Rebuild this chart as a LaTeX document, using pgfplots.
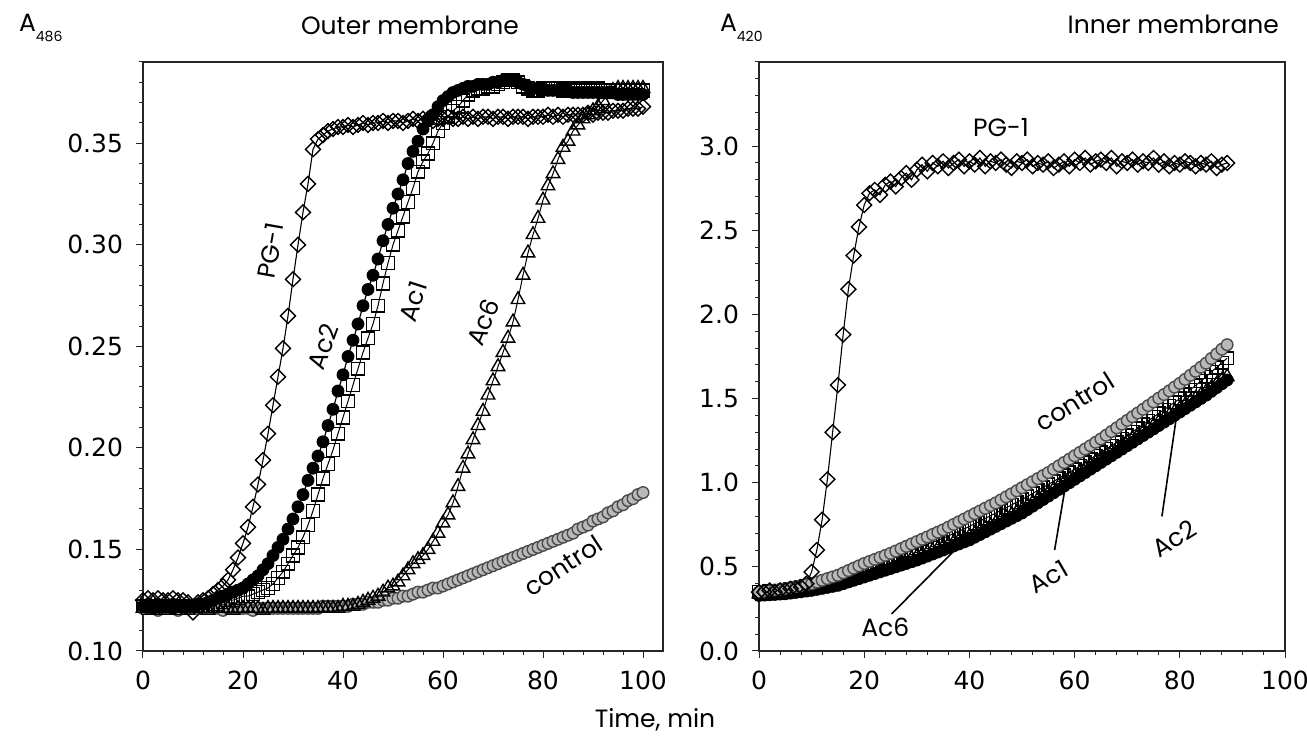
\documentclass[border=0pt]{standalone}
\usepackage{pgfplots}
\pgfplotsset{compat=1.18}
\usepackage{pgfplotstable}
\usepackage{fontspec}
\setmainfont{Poppins}
\newfontfamily\tickfont{DejaVu Sans}

% outer membrane, A486
\pgfplotstableread{
x pg ac2 ac1 ac6 ctl
0 0.125 0.122 0.122 0.121 0.121
1 0.126 0.122 0.121 0.121 0.121
2 0.125 0.121 0.122 0.120 0.121
3 0.126 0.122 0.122 0.121 0.120
4 0.125 0.122 0.121 0.121 0.121
5 0.125 0.122 0.122 0.120 0.121
6 0.126 0.121 0.122 0.121 0.121
7 0.125 0.122 0.121 0.121 0.120
8 0.125 0.122 0.122 0.121 0.121
9 0.124 0.122 0.122 0.120 0.121
10 0.119 0.122 0.122 0.121 0.121
11 0.124 0.123 0.122 0.121 0.121
12 0.125 0.123 0.122 0.121 0.121
13 0.126 0.124 0.122 0.120 0.121
14 0.128 0.125 0.123 0.121 0.121
15 0.130 0.126 0.123 0.121 0.121
16 0.132 0.127 0.124 0.121 0.120
17 0.135 0.128 0.125 0.121 0.121
18 0.140 0.129 0.125 0.120 0.121
19 0.146 0.130 0.126 0.121 0.121
20 0.153 0.131 0.127 0.121 0.121
21 0.161 0.133 0.127 0.121 0.121
22 0.171 0.135 0.128 0.121 0.120
23 0.182 0.137 0.129 0.121 0.121
24 0.194 0.140 0.130 0.120 0.121
25 0.207 0.143 0.131 0.121 0.121
26 0.221 0.147 0.133 0.121 0.121
27 0.235 0.151 0.136 0.121 0.121
28 0.249 0.155 0.139 0.121 0.121
29 0.265 0.160 0.143 0.121 0.121
30 0.283 0.165 0.147 0.121 0.121
31 0.300 0.171 0.151 0.121 0.121
32 0.316 0.177 0.156 0.121 0.121
33 0.330 0.184 0.162 0.121 0.121
34 0.347 0.190 0.169 0.121 0.121
35 0.352 0.196 0.177 0.121 0.121
36 0.354 0.203 0.185 0.121 0.122
37 0.356 0.211 0.192 0.121 0.122
38 0.357 0.219 0.199 0.121 0.122
39 0.358 0.228 0.207 0.121 0.122
40 0.358 0.236 0.215 0.122 0.122
41 0.359 0.245 0.223 0.122 0.122
42 0.358 0.253 0.231 0.122 0.123
43 0.359 0.261 0.239 0.123 0.123
44 0.360 0.270 0.247 0.124 0.123
45 0.359 0.278 0.254 0.125 0.124
46 0.360 0.285 0.261 0.126 0.124
47 0.360 0.293 0.270 0.127 0.124
48 0.361 0.302 0.281 0.129 0.125
49 0.360 0.310 0.291 0.131 0.125
50 0.361 0.318 0.300 0.132 0.126
51 0.361 0.325 0.307 0.134 0.126
52 0.360 0.332 0.314 0.137 0.127
53 0.361 0.340 0.321 0.140 0.127
54 0.362 0.346 0.328 0.143 0.128
55 0.361 0.351 0.336 0.145 0.129
56 0.362 0.357 0.341 0.147 0.129
57 0.362 0.361 0.345 0.150 0.130
58 0.361 0.364 0.350 0.154 0.131
59 0.362 0.368 0.356 0.158 0.131
60 0.362 0.371 0.360 0.163 0.132
61 0.363 0.373 0.363 0.167 0.133
62 0.362 0.375 0.366 0.173 0.134
63 0.362 0.376 0.368 0.181 0.135
64 0.363 0.377 0.371 0.190 0.136
65 0.362 0.378 0.374 0.197 0.137
66 0.363 0.378 0.376 0.204 0.138
67 0.362 0.379 0.377 0.211 0.139
68 0.363 0.379 0.377 0.218 0.140
69 0.363 0.379 0.378 0.226 0.141
70 0.362 0.380 0.378 0.233 0.142
71 0.363 0.380 0.379 0.240 0.143
72 0.363 0.381 0.380 0.247 0.144
73 0.362 0.381 0.381 0.254 0.145
74 0.363 0.381 0.381 0.262 0.146
75 0.363 0.380 0.380 0.273 0.147
76 0.363 0.379 0.378 0.285 0.148
77 0.362 0.378 0.377 0.296 0.149
78 0.363 0.377 0.376 0.305 0.150
79 0.363 0.377 0.376 0.313 0.151
80 0.363 0.377 0.377 0.322 0.152
81 0.364 0.376 0.377 0.329 0.153
82 0.363 0.376 0.377 0.335 0.154
83 0.364 0.376 0.377 0.342 0.155
84 0.363 0.376 0.376 0.348 0.156
85 0.364 0.376 0.377 0.351 0.157
86 0.364 0.375 0.376 0.356 0.158
87 0.364 0.375 0.377 0.359 0.160
88 0.364 0.375 0.376 0.362 0.161
89 0.365 0.375 0.377 0.364 0.162
90 0.364 0.375 0.376 0.366 0.164
91 0.365 0.375 0.377 0.368 0.165
92 0.365 0.375 0.376 0.371 0.166
93 0.365 0.375 0.376 0.374 0.168
94 0.366 0.375 0.376 0.376 0.169
95 0.366 0.374 0.376 0.377 0.171
96 0.366 0.374 0.376 0.377 0.172
97 0.367 0.374 0.376 0.377 0.174
98 0.367 0.374 0.376 0.377 0.175
99 0.367 0.374 0.376 0.377 0.177
100 0.368 0.374 0.376 0.377 0.178
}\outerdata

% inner membrane, A420
\pgfplotstableread{
x pg ac2 ac1 ac6 ctl
0 0.35 0.330 0.350 0.340 0.350
1 0.35 0.332 0.352 0.342 0.354
2 0.36 0.334 0.354 0.344 0.358
3 0.35 0.336 0.356 0.346 0.362
4 0.36 0.338 0.358 0.348 0.366
5 0.36 0.340 0.360 0.350 0.370
6 0.37 0.344 0.366 0.354 0.376
7 0.37 0.348 0.372 0.358 0.382
8 0.38 0.352 0.378 0.362 0.388
9 0.40 0.356 0.384 0.366 0.394
10 0.47 0.360 0.390 0.370 0.400
11 0.60 0.366 0.398 0.378 0.410
12 0.78 0.372 0.406 0.386 0.420
13 1.02 0.378 0.414 0.394 0.430
14 1.30 0.384 0.422 0.402 0.440
15 1.58 0.390 0.430 0.410 0.450
16 1.88 0.400 0.442 0.420 0.464
17 2.15 0.410 0.454 0.430 0.478
18 2.35 0.420 0.466 0.440 0.492
19 2.52 0.430 0.478 0.450 0.506
20 2.65 0.440 0.490 0.460 0.520
21 2.72 0.450 0.502 0.470 0.532
22 2.74 0.460 0.514 0.480 0.544
23 2.71 0.470 0.526 0.490 0.556
24 2.77 0.480 0.538 0.500 0.568
25 2.79 0.490 0.550 0.510 0.580
26 2.76 0.500 0.562 0.520 0.594
27 2.81 0.510 0.574 0.530 0.608
28 2.84 0.520 0.586 0.540 0.622
29 2.80 0.530 0.598 0.550 0.636
30 2.86 0.540 0.610 0.560 0.650
31 2.89 0.552 0.622 0.572 0.664
32 2.85 0.564 0.634 0.584 0.678
33 2.90 0.576 0.646 0.596 0.692
34 2.88 0.588 0.658 0.608 0.706
35 2.91 0.600 0.670 0.620 0.720
36 2.87 0.612 0.684 0.632 0.736
37 2.90 0.624 0.698 0.644 0.752
38 2.92 0.636 0.712 0.656 0.768
39 2.88 0.648 0.726 0.668 0.784
40 2.91 0.660 0.740 0.680 0.800
41 2.89 0.676 0.756 0.696 0.816
42 2.93 0.692 0.772 0.712 0.832
43 2.88 0.708 0.788 0.728 0.848
44 2.91 0.724 0.804 0.744 0.864
45 2.90 0.740 0.820 0.760 0.880
46 2.92 0.756 0.836 0.776 0.898
47 2.89 0.772 0.852 0.792 0.916
48 2.87 0.788 0.868 0.808 0.934
49 2.91 0.804 0.884 0.824 0.952
50 2.90 0.820 0.900 0.840 0.970
51 2.92 0.840 0.918 0.860 0.988
52 2.88 0.860 0.936 0.880 1.006
53 2.90 0.880 0.954 0.900 1.024
54 2.89 0.900 0.972 0.920 1.042
55 2.91 0.920 0.990 0.940 1.060
56 2.87 0.940 1.008 0.960 1.080
57 2.89 0.960 1.026 0.980 1.100
58 2.91 0.980 1.044 1.000 1.120
59 2.88 1.000 1.062 1.020 1.140
60 2.92 1.020 1.080 1.040 1.160
61 2.90 1.040 1.100 1.060 1.180
62 2.93 1.060 1.120 1.080 1.200
63 2.89 1.080 1.140 1.100 1.220
64 2.91 1.100 1.160 1.120 1.240
65 2.92 1.120 1.180 1.140 1.260
66 2.90 1.140 1.200 1.160 1.282
67 2.93 1.160 1.220 1.180 1.304
68 2.88 1.180 1.240 1.200 1.326
69 2.91 1.200 1.260 1.220 1.348
70 2.90 1.220 1.280 1.240 1.370
71 2.92 1.240 1.302 1.260 1.392
72 2.89 1.260 1.324 1.280 1.414
73 2.91 1.280 1.346 1.300 1.436
74 2.90 1.300 1.368 1.320 1.458
75 2.93 1.320 1.390 1.340 1.480
76 2.89 1.340 1.412 1.360 1.502
77 2.91 1.360 1.434 1.380 1.524
78 2.88 1.380 1.456 1.400 1.546
79 2.90 1.400 1.478 1.420 1.568
80 2.89 1.420 1.500 1.440 1.590
81 2.91 1.440 1.526 1.460 1.614
82 2.90 1.460 1.552 1.480 1.638
83 2.88 1.480 1.578 1.500 1.662
84 2.90 1.500 1.604 1.520 1.686
85 2.89 1.520 1.630 1.540 1.710
86 2.91 1.543 1.658 1.563 1.738
87 2.87 1.565 1.685 1.585 1.765
88 2.89 1.588 1.713 1.608 1.793
89 2.90 1.610 1.740 1.630 1.820
}\innerdata

\newcommand\lab{\fontsize{12.5}{15}\selectfont}

\pgfplotsset{
  memb/.style={
    scale only axis, height=294.5pt,
    clip=false,
    axis line style={line width=0.6pt, black!85},
    tick align=outside, tick pos=left,
    major tick length=3.5pt, minor tick length=2pt,
    every tick/.style={black!85, line width=0.5pt},
    xmin=0, xtick={0,20,...,100}, minor x tick num=4,
    tick label style={font=\tickfont\fontsize{12.5}{14}\selectfont},
    xticklabel style={yshift=-3pt},
    yticklabel style={xshift=-3pt},
    /pgf/number format/assume math mode=true,
  },
  pgs/.style={black, line width=0.55pt, mark=diamond, mark size=3.7pt,
    mark options={solid, fill=white, line width=0.7pt, xscale=1.35}},
  ac2s/.style={black, line width=0.6pt, mark=*, mark size=2.9pt,
    mark options={solid, fill=black}},
  ac1s/.style={black, line width=0.5pt, mark=square, mark size=3.2pt,
    mark options={solid, fill=white, line width=0.75pt}},
  ac6s/.style={black, line width=0.5pt, mark=triangle, mark size=3.9pt,
    mark options={solid, fill=white, line width=0.7pt}},
  ctls/.style={black!70, line width=0.5pt, mark=*, mark size=2.9pt,
    mark options={solid, fill=gray!55, draw=black!70, line width=0.7pt}},
}

\begin{document}
\begin{tikzpicture}
\useasboundingbox (0,0) rectangle (653.5pt,369pt);

\begin{axis}[memb, at={(71.5pt,43.5pt)}, anchor=origin,
  width=260pt, xmax=104,
  ymin=0.10, ymax=0.39,
  ytick={0.10,0.15,0.20,0.25,0.30,0.35},
  minor ytick={0.11,0.12,...,0.385},
  yticklabel style={/pgf/number format/.cd, fixed, fixed zerofill, precision=2},
]
\addplot[ctls] table[x=x, y=ctl] {\outerdata};
\addplot[ac6s] table[x=x, y=ac6] {\outerdata};
\addplot[ac2s] table[x=x, y=ac2] {\outerdata};
\addplot[ac1s] table[x=x, y=ac1] {\outerdata};
\addplot[pgs] table[x=x, y=pg] {\outerdata};
\node[rotate=80, font=\lab] at (axis cs:25.5,0.297) {PG-1};
\node[rotate=70, font=\lab] at (axis cs:36,0.25) {Ac2};
\node[rotate=72, font=\lab] at (axis cs:54,0.272) {Ac1};
\node[rotate=67, font=\lab] at (axis cs:68,0.262) {Ac6};
\node[rotate=33, font=\lab] at (axis cs:84,0.142) {control};
\end{axis}

\begin{axis}[memb, at={(379.5pt,43.5pt)}, anchor=origin,
  width=263pt, xmax=100,
  ymin=0, ymax=3.5,
  ytick={0,0.5,1,1.5,2,2.5,3},
  minor ytick={0.1,0.2,...,3.45},
  yticklabel style={/pgf/number format/.cd, fixed, fixed zerofill, precision=1},
]
\addplot[ac2s] table[x=x, y=ac2] {\innerdata};
\addplot[ac6s] table[x=x, y=ac6] {\innerdata};
\addplot[ac1s] table[x=x, y=ac1] {\innerdata};
\addplot[ctls] table[x=x, y=ctl] {\innerdata};
\addplot[pgs] table[x=x, y=pg] {\innerdata};
\node[font=\lab] at (axis cs:46,3.11) {PG-1};
\node[rotate=32, font=\lab] at (axis cs:60,1.48) {control};
\node[rotate=30, font=\lab] at (axis cs:55,0.44) {Ac1};
\node[rotate=32, font=\lab] at (axis cs:79,0.67) {Ac2};
\node[font=\lab] at (axis cs:24,0.14) {Ac6};
\draw[line width=0.8pt] (axis cs:25.2,0.22) -- (axis cs:38.5,0.64);
\draw[line width=0.8pt] (axis cs:56.2,0.60) -- (axis cs:58.9,1.10);
\draw[line width=0.8pt] (axis cs:76.6,0.80) -- (axis cs:79.4,1.40);
\end{axis}

\node[anchor=west, font=\lab] at (6pt,355pt) {A\raisebox{-0.7ex}{\fontsize{7}{8}\selectfont 486}};
\node[anchor=west, font=\lab] at (356.5pt,355pt) {A\raisebox{-0.7ex}{\fontsize{7}{8}\selectfont 420}};
\node[font=\lab] at (205pt,356.5pt) {Outer membrane};
\node[anchor=east, font=\lab] at (643pt,357pt) {Inner membrane};
\node[font=\lab] at (327.5pt,9pt) {Time, min};
\end{tikzpicture}
\end{document}
